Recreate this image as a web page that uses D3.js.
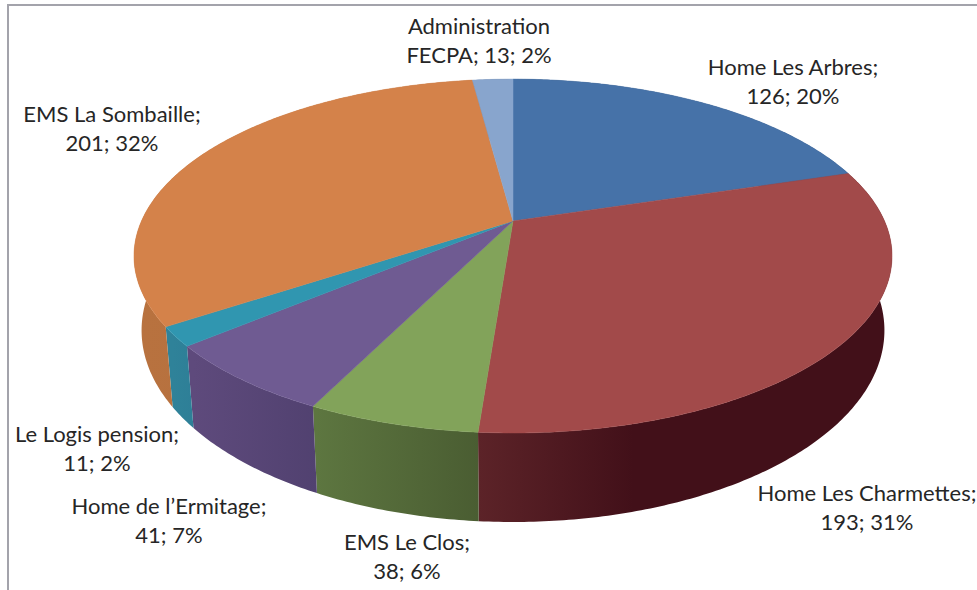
<!DOCTYPE html>
<html><head><meta charset="utf-8">
<script src="https://cdn.jsdelivr.net/npm/d3@7/dist/d3.min.js"></script>
<style>html,body{margin:0;padding:0;background:#fff}svg{display:block}text{font-family:Lato,"Open Sans",sans-serif;fill:#262626}</style>
</head><body><div id="c"></div>
<script>
const categories = ["Home Les Arbres","Home Les Charmettes","EMS Le Clos","Home de l’Ermitage","Le Logis pension","EMS La Sombaille","Administration FECPA"];
const values = [126,193,38,41,11,201,13];
const percents = ["20%","31%","6%","7%","2%","32%","2%"];
const topColors = ["#4672a8","#a24a4a","#82a35a","#6f5b92","#3096b0","#d4824a","#88a5cd"];
const wallLeft  = ["#2c4a70","#5c2328","#5d7640","#5e4a7c","#2f8299","#b8723f","#5a7090"];
const wallRight = ["#2c4a70","#421019","#4a5d32","#514170","#2e7f97","#b06c3c","#5a7090"];
const wallSplit = [1,0.38,1,1,1,1,1];
const labelLines = [
  ["Home Les Arbres;","126; 20%"],
  ["Home Les Charmettes;","193; 31%"],
  ["EMS Le Clos;","38; 6%"],
  ["Home de l’Ermitage;","41; 7%"],
  ["Le Logis pension;","11; 2%"],
  ["EMS La Sombaille;","201; 32%"],
  ["Administration","FECPA; 13; 2%"]
];
const labelX = [793,867,407,169,97,112,479];
const labelY = [67,493,542,506,434,114,26];

const W=977,H=590, lineGap=29;
const k=0.198, apex={x:513,y:221};
const sx=d3.scaleLinear().domain([-1,1]).range([apex.x-371.5,apex.x+371.5]);
const sy=d3.scaleLinear().domain([-1,1]).range([apex.y-170,apex.y+170]);
const rim=a=>{const w=1+k*Math.cos(a);return [sx(Math.sin(a)/w),sy(-Math.cos(a)/w)];};
const low=a=>{const w=1+k*Math.cos(a),p=rim(a);return [apex.x+0.98*(p[0]-apex.x),p[1]+71.4/w];};
const sweep=(a,b)=>{const n=Math.max(4,Math.ceil((b-a)*90));return d3.range(n+1).map(i=>a+(b-a)*i/n);};
const line=d3.line();

const arcs=d3.pie().sort(null).startAngle(0).endAngle(2*Math.PI)(values);
const svg=d3.select("#c").append("svg").attr("width",W).attr("height",H);
svg.append("path").attr("d",line([[8,H],[8,5],[W,5]])).attr("fill","none").attr("stroke","#a3a3ab").attr("stroke-width",2);

const defs=svg.append("defs");
arcs.forEach((d,i)=>{
  const pts=sweep(d.startAngle,d.endAngle).map(low);
  const xs=d3.extent(pts,p=>p[0]);
  const g=defs.append("linearGradient").attr("id","w"+i).attr("gradientUnits","userSpaceOnUse")
    .attr("x1",xs[0]).attr("x2",xs[1]).attr("y1",0).attr("y2",0);
  g.append("stop").attr("offset",0).attr("stop-color",wallLeft[i]);
  g.append("stop").attr("offset",wallSplit[i]).attr("stop-color",wallRight[i]);
});

svg.append("g").selectAll("path").data(arcs).join("path")
  .attr("fill",(d,i)=>`url(#w${i})`)
  .attr("d",d=>{const t=sweep(d.startAngle,d.endAngle);return line(t.map(rim).concat(t.slice().reverse().map(low)))+"Z";});

svg.append("g").selectAll("path").data(arcs).join("path")
  .attr("fill",(d,i)=>topColors[i]).attr("stroke",(d,i)=>topColors[i]).attr("stroke-width",0.5)
  .attr("d",d=>line([[apex.x,apex.y]].concat(sweep(d.startAngle,d.endAngle).map(rim)))+"Z");

const lab=svg.append("g").attr("font-size",22).attr("text-anchor","middle");
labelLines.forEach((ls,i)=>ls.forEach((s,j)=>{
  lab.append("text").attr("x",labelX[i]).attr("y",labelY[i]+j*lineGap).attr("dy","0.35em").text(s);
}));
</script></body></html>
